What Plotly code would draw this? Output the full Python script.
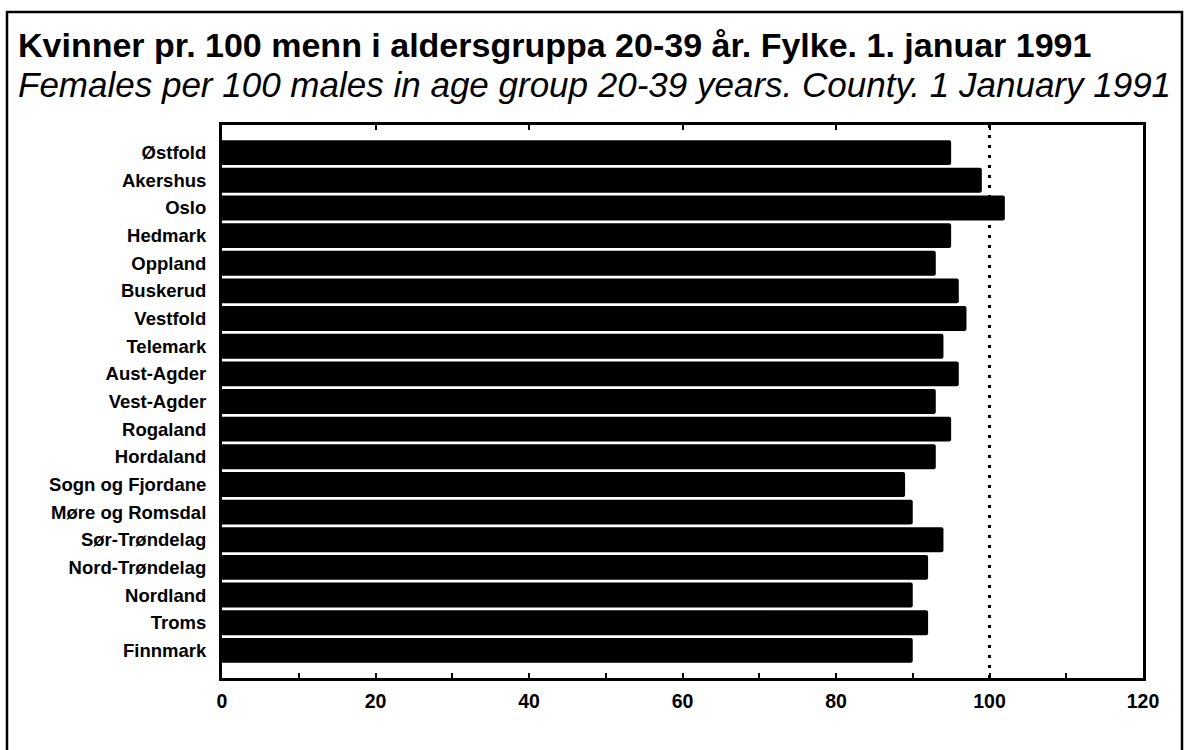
import plotly.graph_objects as go

counties = ["Østfold", "Akershus", "Oslo", "Hedmark", "Oppland", "Buskerud", "Vestfold",
            "Telemark", "Aust-Agder", "Vest-Agder", "Rogaland", "Hordaland",
            "Sogn og Fjordane", "Møre og Romsdal", "Sør-Trøndelag", "Nord-Trøndelag",
            "Nordland", "Troms", "Finnmark"]
females_per_100_males = [95, 99, 102, 95, 93, 96, 97, 94, 96, 93, 95, 93,
                         89, 90, 94, 92, 90, 92, 90]
x_ticks = [0, 20, 40, 60, 80, 100, 120]
reference_value = 100

title_no = "Kvinner pr. 100 menn i aldersgruppa 20-39 år. Fylke. 1. januar 1991"
title_en = "Females per 100 males in age group 20-39 years. County. 1 January 1991"

W, H = 1188, 750
L, R, T, B = 222, 45, 125, 72
pw, ph = W - L - R, H - T - B

def px_x(p):
    return (p - L) / pw

def px_y(p):
    return (H - B - p) / ph

FONT = "Liberation Sans, Arial, Helvetica, sans-serif"

fig = go.Figure()
fig.add_trace(go.Bar(
    y=counties, x=females_per_100_males, orientation="h",
    marker=dict(color="black", line=dict(width=0), cornerradius=2),
    hoverinfo="x+y", showlegend=False,
))
# invisible trace to carry top tick axis
fig.add_trace(go.Scatter(x=[0, 120], y=[counties[0], counties[0]], xaxis="x2",
                         mode="markers", marker=dict(opacity=0), showlegend=False,
                         hoverinfo="skip"))

fig.update_layout(
    width=W, height=H,
    margin=dict(l=L, r=R, t=T, b=B, pad=0),
    paper_bgcolor="white", plot_bgcolor="white",
    bargap=0.1,
    font=dict(family=FONT, color="black"),
    xaxis=dict(
        range=[0, 120], tickvals=x_ticks, ticktext=[str(v) for v in x_ticks],
        ticks="inside", ticklen=5, tickwidth=2, tickcolor="black",
        minor=dict(ticks="inside", ticklen=5, tickwidth=2, tickcolor="black", dtick=10, tick0=0),
        showline=True, linecolor="black", linewidth=3, mirror=True,
        showgrid=False, zeroline=False,
        tickfont=dict(size=19.5, weight="bold", family=FONT),
        ticklabelstandoff=4,
    ),
    xaxis2=dict(
        overlaying="x", side="top", range=[0, 120], tickvals=x_ticks,
        showticklabels=False, ticks="inside", ticklen=5, tickwidth=2, tickcolor="black",
        showline=False, showgrid=False, zeroline=False,
    ),
    yaxis=dict(
        type="category", categoryorder="array", categoryarray=counties,
        range=[len(counties), -1],
        showline=True, linecolor="black", linewidth=3, mirror=True,
        ticks="", showgrid=False, zeroline=False,
        tickfont=dict(size=18.5, weight="bold", family=FONT),
        ticklabelstandoff=9,
    ),
    shapes=[
        dict(type="line", xref="x", yref="paper", x0=reference_value, x1=reference_value,
             y0=0, y1=1, line=dict(color="black", width=3, dash="3px,7px"), layer="above"),
        dict(type="rect", xref="paper", yref="paper",
             x0=px_x(7), x1=px_x(1182), y0=px_y(770), y1=px_y(12),
             line=dict(color="black", width=2.5), fillcolor="rgba(0,0,0,0)"),
    ],
    annotations=[
        dict(text=title_no, xref="paper", yref="paper", x=px_x(16), y=px_y(45),
             xanchor="left", yanchor="middle", showarrow=False,
             font=dict(size=34, weight="bold", family=FONT, color="black")),
        dict(text=title_en, xref="paper", yref="paper", x=px_x(16), y=px_y(85),
             xanchor="left", yanchor="middle", showarrow=False,
             font=dict(size=35, style="italic", family=FONT, color="black")),
    ],
)

fig.write_html("out.html",
               config={"displayModeBar": False},
               post_script="document.body.style.margin='0';document.body.style.overflow='hidden';")
